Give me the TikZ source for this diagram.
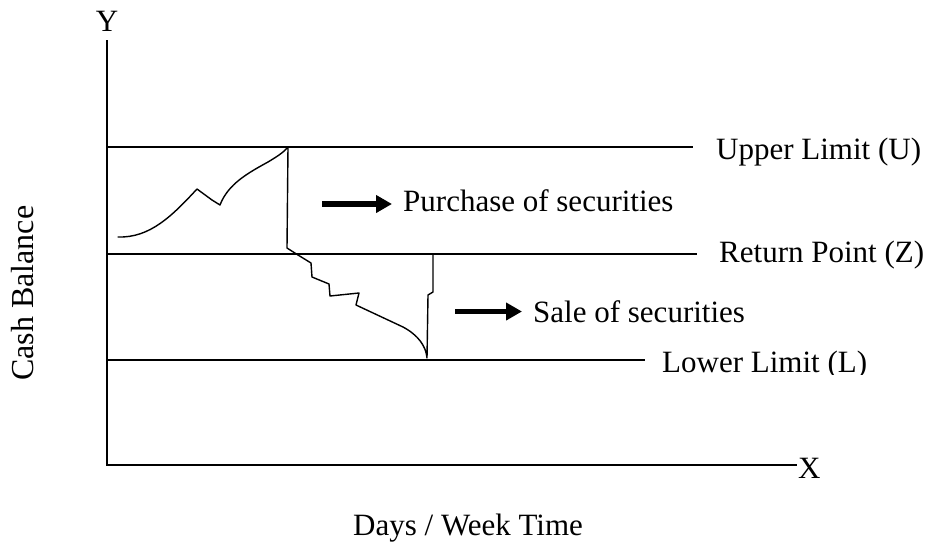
\documentclass[tikz,border=0pt]{standalone}
\usepackage{fontspec}
\setmainfont{Liberation Serif}
\usetikzlibrary{arrows.meta}
\begin{document}
\begin{tikzpicture}[x=1pt,y=-1pt,
  lbl/.style={inner sep=0pt,font=\fontsize{31}{36}\selectfont,anchor=base west},
  axisline/.style={line width=1.3pt},
  limitline/.style={line width=1.8pt},
  cashpath/.style={line width=1.4pt,line join=round,line cap=round},
  bigarrow/.style={line width=5.5pt,-{Triangle[length=16pt,width=17pt]},shorten >=11pt}]
  \useasboundingbox (0,0) rectangle (931,541);

  % axes
  \coordinate (origin) at (107,465);
  \coordinate (ytop) at (107,40);
  \coordinate (xend) at (797,465);
  \draw[axisline] (ytop) -- (origin) -- (xend);
  \node[lbl,anchor=base] (ylab) at (107,31) {Y};
  \node[lbl] (xlab) at (798,478) {X};

  % control limits
  \coordinate (u0) at (107,147); \coordinate (u1) at (693,147);
  \coordinate (z0) at (107,254); \coordinate (z1) at (697,254);
  \coordinate (l0) at (107,360); \coordinate (l1) at (645,360);
  \draw[limitline] (u0) -- (u1);
  \draw[limitline] (z0) -- (z1);
  \draw[limitline] (l0) -- (l1);
  \node[lbl] (ulab) at (716,159) {Upper Limit (U)};
  \node[lbl] (zlab) at (719,262) {Return Point (Z)};
  \begin{scope}
    \clip (650,330) rectangle (931,374);
    \node[lbl] (llab) at (662,372) {Lower Limit (L)};
  \end{scope}

  % cash balance path: rise to U, drop to Z, fall to L, jump back to Z
  \draw[cashpath] (118,237) .. controls (150,238) and (172,216) .. (197,189)
    -- (212,200) -- (220,205)
    .. controls (228,184) and (248,173) .. (268,162)
    .. controls (278,156) and (284,152) .. (288,147)
    -- (287,248) -- (298,255) -- (311,263) -- (312,277) -- (329,284)
    -- (330,296) -- (359,293) -- (356,305) -- (403,327)
    .. controls (418,335) and (426,346) .. (427,358)
    -- (428,295) -- (433,292) -- (433,254);

  % transaction labels
  \node[lbl] (buy) at (403,211) {Purchase of securities};
  \node[lbl] (sell) at (533,322) {Sale of securities};
  \coordinate (buytail) at (322,204);
  \coordinate (selltail) at (455,311.5);
  \draw[bigarrow] (buytail) -- (buytail -| buy.west);
  \draw[bigarrow] (selltail) -- (selltail -| sell.west);

  % axis titles
  \node[lbl] (xtitle) at (353,535) {Days / Week Time};
  \node[lbl,rotate=90,font=\fontsize{32}{36}\selectfont] (ytitle) at (33,381) {Cash Balance};
\end{tikzpicture}
\end{document}
